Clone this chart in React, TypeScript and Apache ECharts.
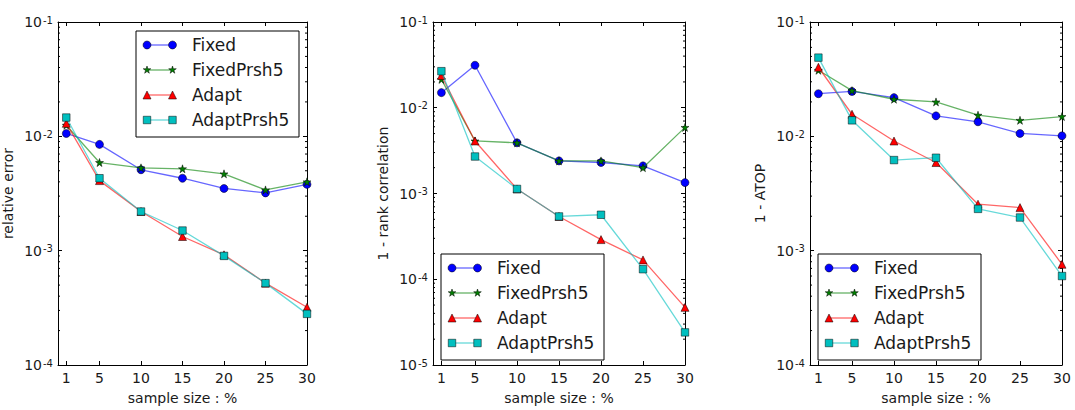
import React, { useEffect, useRef } from "react";
import * as echarts from "echarts";

// Sample sizes (%) on the x axis and where they are ticked
const SIZES = [1, 5, 10, 15, 20, 25, 30];
const X_TICKS = [1, 5, 10, 15, 20, 25, 30];
const SERIES_NAMES = ["Fixed", "FixedPrsh5", "Adapt", "AdaptPrsh5"];

// Relative error
const ERR_FIXED = [0.0106, 0.0085, 0.0051, 0.0043, 0.0035, 0.0032, 0.0038];
const ERR_FIXED_PRSH5 = [0.0125, 0.0059, 0.0053, 0.0052, 0.0047, 0.0034, 0.004];
const ERR_ADAPT = [0.013, 0.0041, 0.0022, 0.00133, 0.00092, 0.00052, 0.00032];
const ERR_ADAPT_PRSH5 = [0.0146, 0.0043, 0.0022, 0.0015, 0.0009, 0.00052, 0.00028];

// 1 - rank correlation
const RANK_FIXED = [0.015, 0.0313, 0.0039, 0.0024, 0.0023, 0.0021, 0.00134];
const RANK_FIXED_PRSH5 = [0.0214, 0.0041, 0.0039, 0.0024, 0.0024, 0.002, 0.0059];
const RANK_ADAPT = [0.0238, 0.0041, 0.00113, 0.00054, 0.00029, 0.000168, 0.000047];
const RANK_ADAPT_PRSH5 = [0.0267, 0.0027, 0.00113, 0.00054, 0.000565, 0.000131, 0.000024];

// 1 - ATOP
const ATOP_FIXED = [0.0236, 0.0247, 0.0218, 0.0151, 0.0134, 0.0106, 0.0101];
const ATOP_FIXED_PRSH5 = [0.0378, 0.0251, 0.0211, 0.02, 0.0153, 0.0138, 0.0149];
const ATOP_ADAPT = [0.0402, 0.0156, 0.0091, 0.0059, 0.00255, 0.00238, 0.00076];
const ATOP_ADAPT_PRSH5 = [0.0488, 0.0138, 0.0062, 0.0065, 0.00232, 0.00195, 0.0006];

// Minor log ticks within each decade
const MINOR_FACTORS = [2, 3, 4, 5, 6, 7, 8, 9];

const FONT = "DejaVu Sans";
const INK = "#1a1a1a";
const COLORS = ["#0000ff", "#008000", "#ff0000", "#00bfbf"];
const STAR_PTS = [
  [0, -1], [0.2245, -0.309], [0.9511, -0.309], [0.3633, 0.118], [0.5878, 0.809],
  [0, 0.382], [-0.5878, 0.809], [-0.3633, 0.118], [-0.9511, -0.309], [-0.2245, -0.309],
];
const STAR_PATH =
  "path://" + STAR_PTS.map((p, i) => (i === 0 ? "M" : "L") + p[0] + "," + p[1]).join("") + "Z";
const SYMBOLS = ["circle", STAR_PATH, "triangle", "rect"];
const SYMBOL_SIZES = [8, 8, 8, 7.5];

const PANELS = [
  {
    yName: "relative error",
    minExp: -4,
    maxExp: -1,
    values: [ERR_FIXED, ERR_FIXED_PRSH5, ERR_ADAPT, ERR_ADAPT_PRSH5],
    grid: { left: 57, top: 22, width: 250, height: 346 },
    legendAt: [136, 31],
  },
  {
    yName: "1 - rank correlation",
    minExp: -5,
    maxExp: -1,
    values: [RANK_FIXED, RANK_FIXED_PRSH5, RANK_ADAPT, RANK_ADAPT_PRSH5],
    grid: { left: 433, top: 22, width: 252, height: 346 },
    legendAt: [441, 254],
  },
  {
    yName: "1 - ATOP",
    minExp: -4,
    maxExp: -1,
    values: [ATOP_FIXED, ATOP_FIXED_PRSH5, ATOP_ADAPT, ATOP_ADAPT_PRSH5],
    grid: { left: 810, top: 22, width: 252, height: 346 },
    legendAt: [818, 254],
  },
];

function marker(i: number, cx: number, cy: number) {
  const style = { fill: COLORS[i], stroke: "#000", lineWidth: 0.5 };
  if (i === 0) return { type: "circle", shape: { cx, cy, r: 4 }, style };
  if (i === 1)
    return {
      type: "polygon",
      shape: { points: STAR_PTS.map((p) => [cx + p[0] * 4, cy + p[1] * 4]) },
      style,
    };
  if (i === 2)
    return {
      type: "polygon",
      shape: { points: [[cx, cy - 4], [cx + 4, cy + 4], [cx - 4, cy + 4]] },
      style,
    };
  return { type: "rect", shape: { x: cx - 3.75, y: cy - 3.75, width: 7.5, height: 7.5 }, style };
}

function legendGroup(x: number, y: number) {
  const children: any[] = [
    {
      type: "rect",
      shape: { x: 0, y: 0, width: 163, height: 106 },
      style: { fill: "#fff", stroke: "#000", lineWidth: 1 },
    },
  ];
  SERIES_NAMES.forEach((name, i) => {
    const cy = 14 + 25 * i;
    children.push({
      type: "line",
      shape: { x1: 11, y1: cy, x2: 36.5, y2: cy },
      style: { stroke: COLORS[i], lineWidth: 1.3, opacity: 0.6 },
    });
    children.push(marker(i, 11, cy));
    children.push(marker(i, 36.5, cy));
    children.push({
      type: "text",
      x: 56,
      y: cy,
      style: {
        text: name,
        fontSize: 17,
        fontFamily: FONT,
        fill: INK,
        align: "left",
        verticalAlign: "middle",
      },
    });
  });
  return { type: "group", x, y, z: 100, children };
}

function buildOption() {
  const grid: any[] = [];
  const xAxis: any[] = [];
  const yAxis: any[] = [];
  const series: any[] = [];
  const graphic: any[] = [];

  PANELS.forEach((p, pi) => {
    grid.push({ ...p.grid, containLabel: false });
    const tickStyle = { lineStyle: { color: "#000", width: 1 } };
    const lineStyle = { show: true, onZero: false, lineStyle: { color: "#000", width: 1 } };

    xAxis.push({
      type: "value",
      gridIndex: pi,
      min: 0,
      max: 30,
      position: "bottom",
      axisLine: lineStyle,
      axisTick: { inside: true, length: 4, customValues: X_TICKS, ...tickStyle },
      axisLabel: {
        customValues: X_TICKS,
        fontSize: 14,
        fontFamily: FONT,
        color: INK,
        margin: 6,
      },
      splitLine: { show: false },
      name: "sample size : %",
      nameLocation: "middle",
      nameGap: 26,
      nameTextStyle: { fontSize: 14, fontFamily: FONT, color: INK },
    });
    xAxis.push({
      type: "value",
      gridIndex: pi,
      min: 0,
      max: 30,
      position: "top",
      axisLine: lineStyle,
      axisTick: { inside: true, length: 4, customValues: X_TICKS, ...tickStyle },
      axisLabel: { show: false },
      splitLine: { show: false },
    });

    const yMin = Math.pow(10, p.minExp);
    const yMax = Math.pow(10, p.maxExp);
    yAxis.push({
      type: "log",
      logBase: 10,
      gridIndex: pi,
      min: yMin,
      max: yMax,
      position: "left",
      axisLine: lineStyle,
      axisTick: { inside: true, length: 4, ...tickStyle },
      axisLabel: {
        fontSize: 14,
        fontFamily: FONT,
        color: INK,
        margin: 5,
        formatter: (v: number) => "10{s|" + Math.round(Math.log10(v)) + "}",
        rich: {
          s: { fontSize: 10, fontFamily: FONT, color: INK, verticalAlign: "top", lineHeight: 10, padding: [0, 0, 8, 1] },
        },
      },
      splitLine: { show: false },
      name: p.yName,
      nameLocation: "middle",
      nameGap: 43,
      nameTextStyle: { fontSize: 14, fontFamily: FONT, color: INK },
    });
    yAxis.push({
      type: "log",
      logBase: 10,
      gridIndex: pi,
      min: yMin,
      max: yMax,
      position: "right",
      axisLine: lineStyle,
      axisTick: { inside: true, length: 4, ...tickStyle },
      axisLabel: { show: false },
      splitLine: { show: false },
    });

    // minor ticks at 2..9 × 10^k, drawn on both vertical edges
    const minor: number[][] = [];
    for (let e = p.minExp; e < p.maxExp; e++) {
      MINOR_FACTORS.forEach((f) => minor.push([0, f * Math.pow(10, e)]));
    }
    series.push({
      type: "custom",
      xAxisIndex: pi * 2,
      yAxisIndex: pi * 2,
      silent: true,
      data: minor,
      encode: { x: 0, y: 1 },
      z: 1,
      renderItem: (_params: any, api: any) => {
        const v = api.value(1);
        const l = api.coord([0, v]);
        const r = api.coord([30, v]);
        const st = { stroke: "#000", lineWidth: 1 };
        return {
          type: "group",
          children: [
            { type: "line", shape: { x1: l[0], y1: l[1], x2: l[0] + 2, y2: l[1] }, style: st },
            { type: "line", shape: { x1: r[0], y1: r[1], x2: r[0] - 2, y2: r[1] }, style: st },
          ],
        };
      },
    });

    p.values.forEach((vals, si) => {
      series.push({
        type: "line",
        name: SERIES_NAMES[si],
        xAxisIndex: pi * 2,
        yAxisIndex: pi * 2,
        data: SIZES.map((s, k) => [s, vals[k]]),
        symbol: SYMBOLS[si],
        symbolSize: SYMBOL_SIZES[si],
        showSymbol: true,
        lineStyle: { color: COLORS[si], width: 1.3, opacity: 0.6 },
        itemStyle: { color: COLORS[si], borderColor: "#000", borderWidth: 0.5 },
        z: 2 + si,
      });
    });

    graphic.push(legendGroup(p.legendAt[0], p.legendAt[1]));
  });

  return {
    animation: false,
    backgroundColor: "#fff",
    textStyle: { fontFamily: FONT },
    grid,
    xAxis,
    yAxis,
    series,
    graphic,
  };
}

export default function App() {
  const ref = useRef<HTMLDivElement>(null);
  useEffect(() => {
    if (!ref.current) return;
    const chart = echarts.init(ref.current, undefined, { renderer: "svg" });
    chart.setOption(buildOption() as any);
    return () => chart.dispose();
  }, []);
  return (
    <div
      ref={ref}
      style={{ position: "absolute", left: 0, top: 0, width: 1075, height: 410 }}
    />
  );
}
